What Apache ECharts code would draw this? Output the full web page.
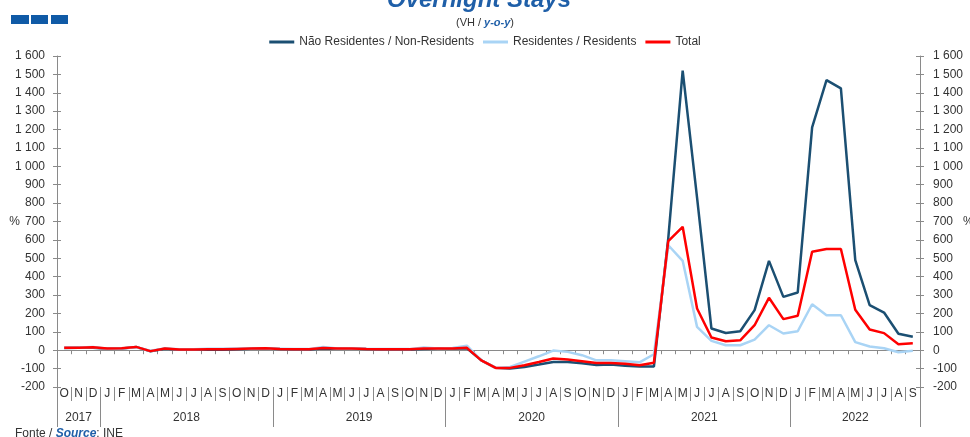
<!DOCTYPE html>
<html>
<head>
<meta charset="utf-8">
<script src="https://cdn.jsdelivr.net/npm/echarts@6/dist/echarts.min.js"></script>
<style>
  html, body { margin: 0; padding: 0; background: #fff; }
  #chart { width: 970px; height: 437px; }
</style>
</head>
<body>
<div id="chart"></div>
<script>
// Oct 2017 .. Sep 2022
const months = [
  'O','N','D',
  'J','F','M','A','M','J','J','A','S','O','N','D',
  'J','F','M','A','M','J','J','A','S','O','N','D',
  'J','F','M','A','M','J','J','A','S','O','N','D',
  'J','F','M','A','M','J','J','A','S','O','N','D',
  'J','F','M','A','M','J','J','A','S'
];
const years = ['2017', '2018', '2019', '2020', '2021', '2022'];
const yearStart = [0, 3, 15, 27, 39, 51];
const yearLen = [3, 12, 12, 12, 12, 9];

const nonResidents = [
  12, 13, 14,
  8, 10, 18, -6, 8, 3, 3, 3, 3, 5, 8, 10,
  6, 4, 4, 10, 8, 9, 6, 4, 4, 4, 7, 8,
  9, 10, -55, -96, -100, -91, -78, -64, -64, -71, -80, -78,
  -84, -88, -89, 610, 1520, 830, 118, 94, 103, 218, 486, 290,
  314, 1212, 1469, 1424, 490, 245, 205, 90, 73
];
const residents = [
  14, 15, 18,
  8, 10, 16, -3, 10, 5, 5, 8, 8, 9, 10, 10,
  8, 6, 6, 17, 10, 11, 8, 6, 6, 6, 15, 10,
  12, 25, -55, -96, -91, -62, -33, -2, -9, -27, -55, -55,
  -60, -66, -22, 571, 486, 127, 51, 27, 27, 58, 136, 91,
  103, 250, 190, 190, 44, 20, 11, -11, -3
];
const total = [
  13, 14, 16,
  9, 11, 18, -5, 9, 4, 4, 5, 5, 7, 9, 11,
  7, 5, 5, 12, 9, 10, 7, 5, 5, 5, 9, 9,
  10, 13, -55, -96, -96, -82, -64, -45, -51, -60, -70, -69,
  -73, -82, -68, 593, 671, 227, 69, 49, 54, 136, 285, 169,
  187, 535, 550, 550, 220, 113, 93, 33, 38
];

const seriesNames = ['Não Residentes / Non-Residents', 'Residentes / Residents', 'Total'];
const seriesColors = ['#1B4F72', '#A9D4F5', '#FF0000'];

// where each year label goes (centre of its months)
const yearLabelAt = {};
years.forEach((y, k) => {
  const c = yearStart[k] + (yearLen[k] - 1) / 2;
  yearLabelAt[Math.floor(c)] = { text: y, half: c % 1 !== 0 };
});

const axisGrey = '#8a8a8a';
const textCol = '#333';
const font = 'Liberation Sans';

function fmt(v) {
  const s = String(Math.abs(v));
  const f = s.length > 3 ? s.slice(0, -3) + ' ' + s.slice(-3) : s;
  return (v < 0 ? '-' : '') + f;
}

const yBase = { type: 'value', min: -200, max: 1600, interval: 100, splitLine: { show: false } };

const chart = echarts.init(document.getElementById('chart'));
chart.setOption({
  animation: false,
  textStyle: { fontFamily: font },
  title: [
    {
      text: 'Overnight Stays', left: 382, top: -17,
      textStyle: { fontSize: 24, fontWeight: 'bold', fontStyle: 'italic', color: '#1F5FA8', fontFamily: font }
    },
    {
      text: '(VH / {b|y-o-y})', left: 'center', top: 12,
      textStyle: {
        fontSize: 11, fontWeight: 'normal', color: textCol, fontFamily: font,
        rich: { b: { fontSize: 11, fontWeight: 'bold', fontStyle: 'italic', color: '#1F5FA8', fontFamily: font } }
      }
    },
    {
      text: 'Fonte / {b|Source}: INE', left: 10, top: 423,
      textStyle: {
        fontSize: 12, fontWeight: 'normal', color: textCol, fontFamily: font,
        rich: { b: { fontSize: 12, fontWeight: 'bold', fontStyle: 'italic', color: '#1F5FA8', fontFamily: font } }
      }
    }
  ],
  graphic: [
    { type: 'rect', shape: { x: 11, y: 15, width: 18, height: 9 }, style: { fill: '#0F5AA6' } },
    { type: 'rect', shape: { x: 31, y: 15, width: 17, height: 9 }, style: { fill: '#0F5AA6' } },
    { type: 'rect', shape: { x: 51, y: 15, width: 17, height: 9 }, style: { fill: '#0F5AA6' } }
  ],
  legend: {
    data: seriesNames, left: 'center', top: 31,
    icon: 'rect', itemWidth: 25, itemHeight: 3, itemGap: 9,
    textStyle: { fontSize: 12, color: textCol, fontFamily: font }
  },
  grid: { left: 57, right: 50, top: 56, bottom: 50, containLabel: false, outerBoundsMode: 'none' },
  xAxis: [
    {
      // zero line with small ticks
      type: 'category', data: months, position: 'bottom',
      axisLine: { onZero: true, lineStyle: { color: axisGrey, width: 1 } },
      axisTick: { show: true, length: 4, lineStyle: { color: axisGrey } },
      axisLabel: { show: false }
    },
    {
      // month letters
      type: 'category', data: months, position: 'bottom',
      axisLine: { show: false, onZero: false },
      axisTick: { show: true, interval: 0, length: 14, lineStyle: { color: axisGrey } },
      axisLabel: { interval: 0, margin: 1, fontSize: 12, color: textCol, fontFamily: font }
    },
    {
      // years
      type: 'category', data: months, position: 'bottom',
      axisLine: { show: false, onZero: false },
      axisTick: {
        show: true, length: 40, lineStyle: { color: axisGrey },
        interval: (i) => yearStart.includes(i)
      },
      axisLabel: {
        margin: 25, fontSize: 12, color: textCol, fontFamily: font,
        interval: (i) => yearLabelAt[i] !== undefined,
        formatter: (v, i) => {
          const y = yearLabelAt[i];
          if (!y) return '';
          return y.half ? '{s|' + y.text + '}' : y.text;
        },
        rich: { s: { padding: [0, 0, 0, 14.4], fontSize: 12, color: textCol, fontFamily: font } }
      }
    }
  ],
  yAxis: [
    Object.assign({}, yBase, {
      position: 'left', name: '%', nameLocation: 'middle', nameRotate: 0, nameGap: 37,
      nameMoveOverlap: false,
      nameTextStyle: { fontSize: 12, color: textCol, fontFamily: font },
      axisLine: { show: true, lineStyle: { color: axisGrey } },
      axisTick: { show: true, length: 4, lineStyle: { color: axisGrey } },
      axisLabel: { margin: 12, fontSize: 12, color: textCol, fontFamily: font, formatter: fmt }
    }),
    Object.assign({}, yBase, {
      position: 'left',
      axisLine: { show: false },
      axisTick: { show: true, inside: true, length: 4, lineStyle: { color: axisGrey } },
      axisLabel: { show: false }
    }),
    Object.assign({}, yBase, {
      position: 'right', name: '%', nameLocation: 'middle', nameRotate: 0, nameGap: 43,
      nameMoveOverlap: false,
      nameTextStyle: { fontSize: 12, color: textCol, fontFamily: font },
      axisLine: { show: true, lineStyle: { color: axisGrey } },
      axisTick: { show: true, length: 4, lineStyle: { color: axisGrey } },
      axisLabel: { margin: 13, fontSize: 12, color: textCol, fontFamily: font, formatter: fmt }
    }),
    Object.assign({}, yBase, {
      position: 'right',
      axisLine: { show: false },
      axisTick: { show: true, inside: true, length: 4, lineStyle: { color: axisGrey } },
      axisLabel: { show: false }
    })
  ],
  series: [nonResidents, residents, total].map((d, k) => ({
    name: seriesNames[k],
    type: 'line',
    data: d,
    xAxisIndex: 0,
    yAxisIndex: 0,
    showSymbol: false,
    symbol: 'none',
    lineStyle: { color: seriesColors[k], width: 2.5 },
    itemStyle: { color: seriesColors[k] },
    z: 2 + k
  }))
});
</script>
</body>
</html>
